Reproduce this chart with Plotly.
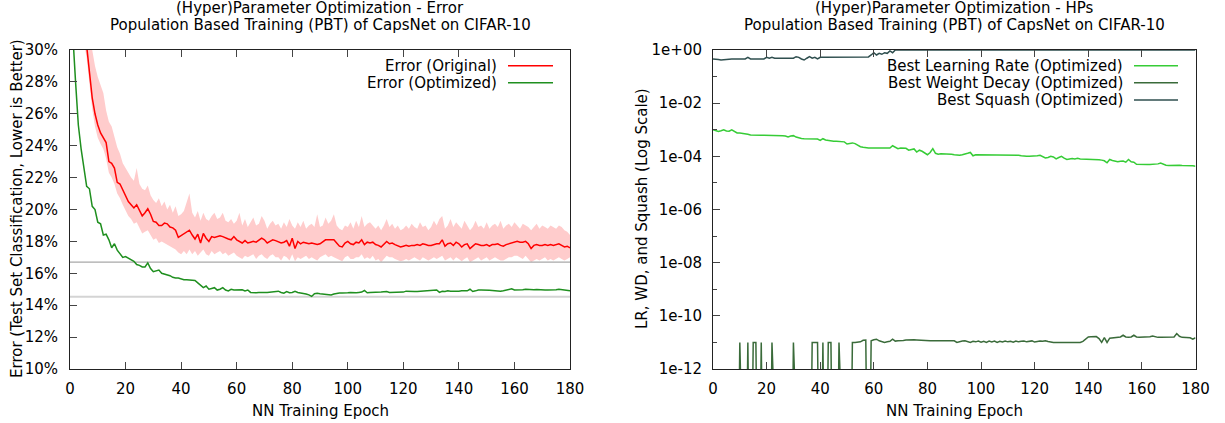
import plotly.graph_objects as go

W, H = 1225, 423
FONT = "DejaVu Sans"
FS = 15

epochs = list(range(181))

err_orig = [45.0, 41.0, 38.0, 35.5, 33.5, 31.8, 30.3, 28.6, 27.0, 26.0,
            25.3, 24.8, 24.5, 24.2, 23.0, 22.9, 22.6, 21.7, 21.6, 21.2,
            20.8, 20.5, 20.3, 20.1, 20.3, 19.9, 19.6, 19.8, 20.05, 19.7,
            19.25, 19.2, 19.0, 19.0, 19.15, 19.1, 18.9, 18.85, 18.7, 18.25,
            18.35, 18.5, 18.6, 18.7, 18.4, 18.15, 18.45, 17.9, 18.5, 18.2,
            18.0, 18.3, 18.25, 18.3, 18.35, 18.3, 18.2, 18.15, 18.1, 18.3,
            18.1, 18.0, 17.9, 18.05, 17.9, 17.95, 18.0, 17.95, 18.05, 18.2,
            18.1, 17.9, 18.0, 18.1, 18.05, 17.95, 17.9, 17.95, 18.05, 17.7,
            18.2, 17.55, 18.0, 17.85, 17.95, 17.9, 17.85, 17.9, 17.85, 17.8,
            17.85, 17.95, 18.1, 18.1, 18.1, 18.1, 17.9, 17.7, 17.65, 17.9,
            18.0, 17.85, 17.8, 17.95, 17.9, 18.1, 17.8, 17.95, 17.9, 17.95,
            17.8, 17.75, 17.65, 17.85, 18.0, 17.85, 17.9, 17.8, 17.7, 17.65,
            17.7, 17.75, 17.7, 17.75, 17.75, 17.8, 17.75, 17.85, 17.8, 17.75,
            17.75, 17.8, 17.85, 17.85, 18.1, 17.7, 17.85, 17.9, 17.75, 17.95,
            17.85, 17.65, 17.8, 17.85, 17.55, 17.7, 17.85, 17.8, 17.75, 17.75,
            17.8, 17.7, 17.8, 17.8, 17.85, 17.75, 17.7, 17.8, 17.85, 17.9,
            17.95, 18.0, 17.95, 17.95, 18.0, 17.85, 17.55, 17.75, 17.8, 17.75,
            17.75, 17.8, 17.75, 17.8, 17.75, 17.8, 17.85, 17.75, 17.65, 17.7, 17.6]

err_orig_hi = [50.0, 46.0, 42.0, 39.0, 37.0, 35.0, 33.0, 31.5, 30.0, 29.0,
               28.3, 27.8, 27.3, 26.2, 25.5, 25.2, 24.6, 23.9, 23.5, 22.9,
               22.6, 22.3, 22.0, 21.8, 22.6, 21.6, 21.3, 21.2, 21.5, 20.9,
               20.6, 20.4, 20.7, 20.2, 20.5, 20.0, 20.3, 19.8, 20.2, 19.6,
               19.7, 19.9, 20.4, 21.0, 19.8, 19.5, 19.9, 19.3, 19.8, 19.4,
               19.3, 19.6, 19.8, 19.4, 19.5, 19.8, 19.3, 19.2, 19.4, 19.1,
               19.3, 19.8, 19.0, 19.4, 18.9, 19.2, 19.5, 19.0, 19.1, 19.6,
               19.3, 18.8, 19.1, 19.3, 19.0, 19.1, 18.8, 19.2, 18.9, 19.4,
               19.0, 18.8, 19.2, 18.9, 19.3, 18.8, 19.0, 19.1, 18.9, 19.7,
               18.9, 19.0, 19.5, 19.1, 19.3, 19.7, 19.0, 18.8, 18.7, 19.0,
               18.9, 19.2, 18.8, 19.3, 18.9, 19.6, 18.9, 19.1, 19.2, 19.0,
               18.8, 19.0, 18.7, 19.0, 19.4, 18.9, 19.1, 18.8, 19.0, 18.7,
               18.8, 19.0, 18.8, 19.1, 18.9, 18.8, 19.2, 18.9, 19.0, 18.7,
               18.9, 19.3, 19.0, 19.4, 19.6, 18.8, 19.0, 19.4, 18.9, 19.2,
               19.0, 18.8, 19.3, 19.0, 18.7, 18.9, 19.3, 18.9, 19.0, 18.8,
               19.2, 18.8, 19.0, 19.1, 18.9, 19.3, 18.8, 19.0, 19.1, 18.9,
               19.2, 19.0, 18.8, 19.1, 19.0, 18.9, 18.7, 18.9, 19.1, 18.8,
               19.0, 18.9, 18.8, 19.0, 18.9, 18.8, 19.0, 18.9, 18.7, 18.6, 18.4]

err_orig_lo = [42.0, 38.0, 35.0, 33.0, 31.5, 30.5, 29.5, 27.8, 26.3, 25.2,
               24.5, 24.1, 23.8, 23.2, 22.3, 22.0, 21.6, 21.0, 20.7, 20.3,
               19.9, 19.6, 19.4, 19.1, 19.2, 18.8, 18.5, 18.6, 18.7, 18.4,
               18.1, 18.2, 17.9, 18.0, 17.9, 17.8, 17.7, 17.6, 17.5, 17.3,
               17.2, 17.4, 17.2, 17.5, 17.2, 17.4, 17.1, 17.3, 17.5, 17.2,
               17.1, 17.4, 17.2, 17.3, 17.4, 17.2, 17.3, 17.1, 17.2, 17.3,
               17.1, 17.0, 16.9, 17.1, 17.0, 17.1, 17.2, 16.9, 17.1, 17.2,
               17.0, 16.9, 17.1, 17.2, 17.0, 17.0, 16.8, 17.1, 17.0, 16.8,
               17.2, 16.75, 17.0, 16.9, 17.0, 17.1, 16.9, 17.0, 16.9, 16.8,
               17.0, 17.1, 17.2, 17.0, 17.1, 17.0, 16.9, 16.8, 16.75, 17.0,
               17.1, 16.9, 16.9, 17.0, 17.0, 17.2, 16.9, 17.0, 16.9, 17.1,
               16.8, 16.9, 16.7, 16.9, 17.1, 17.0, 17.0, 16.9, 16.8, 16.75,
               16.8, 16.9, 16.8, 16.9, 17.0, 16.9, 16.8, 17.0, 16.9, 16.8,
               16.9, 17.0, 16.9, 17.0, 17.1, 16.8, 16.9, 17.0, 16.8, 17.0,
               16.9, 16.75, 16.9, 17.0, 16.7, 16.8, 16.9, 17.0, 16.8, 16.9,
               17.0, 16.8, 16.9, 17.0, 16.9, 16.8, 16.8, 16.9, 17.0, 17.0,
               17.1, 17.1, 17.0, 16.9, 17.1, 16.9, 16.7, 16.8, 16.9, 16.8,
               16.9, 17.0, 16.8, 16.9, 16.8, 16.9, 17.0, 16.9, 16.8, 16.9, 17.0]

err_opt = [36.0, 31.0, 28.0, 25.3, 23.8, 22.5, 21.45, 21.3, 20.2, 20.0,
           19.2, 19.1, 18.4, 18.45, 18.1, 17.6, 17.85, 17.45, 17.25, 17.0,
           17.05, 16.95, 16.9, 16.75, 16.55, 16.5, 16.4, 16.4, 16.65, 16.3,
           16.1, 16.15, 16.2, 16.0, 15.95, 15.9, 15.85, 15.75, 15.7, 15.7,
           15.65, 15.6, 15.6, 15.58, 15.55, 15.55, 15.4, 15.25, 15.1, 15.2,
           15.0, 15.05, 15.1, 14.95, 15.0, 15.1, 14.95, 14.9, 15.0, 14.95,
           14.95, 14.95, 14.97, 14.9, 14.95, 14.8, 14.78, 14.78, 14.8, 14.78,
           14.8, 14.8, 14.82, 14.8, 14.85, 14.88, 14.8, 14.75, 14.85, 14.78,
           14.8, 14.87, 14.8, 14.78, 14.75, 14.7, 14.65, 14.55, 14.72, 14.75,
           14.72, 14.7, 14.72, 14.7, 14.64, 14.7, 14.74, 14.76, 14.76, 14.75,
           14.78, 14.8, 14.78, 14.78, 14.8, 14.82, 14.92, 14.78, 14.8, 14.8,
           14.84, 14.82, 14.83, 14.85, 14.86, 14.8, 14.8, 14.8, 14.78, 14.8,
           14.82, 14.88, 14.86, 14.86, 14.86, 14.86, 14.87, 14.88, 14.88, 14.9,
           14.9, 14.92, 14.95, 14.8, 14.87, 14.86, 14.9, 14.88, 14.87, 14.9,
           14.88, 14.9, 14.92, 14.9, 15.0, 14.86, 14.9, 14.95, 14.95, 14.93,
           14.92, 14.93, 14.92, 14.9, 14.92, 14.88, 14.9, 14.95, 15.0, 15.03,
           14.95, 14.95, 14.95, 14.97, 15.0, 14.98, 14.95, 14.97, 14.98, 14.96,
           14.95, 14.95, 14.95, 14.95, 14.96, 14.97, 15.0, 14.98, 14.95, 14.92, 14.9]

ref_levels = [16.7, 14.53]
ref_colors = ["#a8a8a8", "#d4d4d4"]
ref_widths = [1.2, 2.2]

lr = [1.0e-3, 9.5e-4, 8.7e-4, 9.2e-4, 1.0e-3, 9.0e-4, 8.8e-4, 1.0e-3, 8.5e-4, 7.6e-4,
      7.5e-4, 7.4e-4, 7.2e-4, 6.8e-4, 6.3e-4, 6.2e-4, 6.2e-4, 6.2e-4, 6.2e-4, 6.2e-4,
      6.2e-4, 6.2e-4, 6.2e-4, 6.2e-4, 6.1e-4, 6.1e-4, 6.0e-4, 5.8e-4, 5.4e-4, 5.8e-4,
      6.0e-4, 5.3e-4, 4.9e-4, 4.7e-4, 4.6e-4, 4.6e-4, 4.6e-4, 4.6e-4, 4.6e-4, 4.5e-4,
      4.0e-4, 4.6e-4, 4.1e-4, 3.9e-4, 3.7e-4, 3.7e-4, 3.7e-4, 3.7e-4, 3.7e-4, 3.5e-4,
      2.9e-4, 3.1e-4, 3.2e-4, 3.0e-4, 2.6e-4, 2.3e-4, 2.2e-4, 2.1e-4, 2.05e-4, 2.05e-4,
      2.05e-4, 2.05e-4, 2.05e-4, 2.05e-4, 2.05e-4, 2.05e-4, 2.05e-4, 2.5e-4, 2.2e-4, 1.95e-4,
      2.05e-4, 2.05e-4, 2.0e-4, 1.7e-4, 1.8e-4, 1.9e-4, 1.45e-4, 1.7e-4, 1.55e-4, 1.3e-4,
      1.15e-4, 1.4e-4, 1.95e-4, 1.3e-4, 1.2e-4, 1.25e-4, 1.25e-4, 1.2e-4, 1.23e-4, 1.2e-4,
      1.15e-4, 1.1e-4, 1.1e-4, 1.15e-4, 1.2e-4, 1.3e-4, 1.4e-4, 1.05e-4, 1.15e-4, 1.15e-4,
      1.15e-4, 1.15e-4, 1.15e-4, 1.15e-4, 1.15e-4, 1.15e-4, 1.15e-4, 1.15e-4, 1.15e-4, 1.15e-4,
      1.15e-4, 1.15e-4, 1.15e-4, 1.15e-4, 1.1e-4, 1.05e-4, 1.0e-4, 1.0e-4, 1.0e-4, 1.0e-4,
      1.0e-4, 1.05e-4, 1.1e-4, 1.0e-4, 8.7e-5, 9.0e-5, 1.0e-4, 9.5e-5, 8.0e-5, 9.0e-5,
      1.0e-4, 8.5e-5, 7.6e-5, 8.0e-5, 8.3e-5, 8.0e-5, 8.4e-5, 8.0e-5, 8.0e-5, 7.8e-5,
      7.6e-5, 8.0e-5, 8.0e-5, 7.7e-5, 7.5e-5, 7.2e-5, 6.8e-5, 5.7e-5, 7.6e-5, 7.0e-5,
      6.5e-5, 6.2e-5, 6.5e-5, 6.6e-5, 6.0e-5, 7.6e-5, 6.2e-5, 6.0e-5, 5.0e-5, 4.9e-5,
      4.9e-5, 4.9e-5, 4.9e-5, 4.9e-5, 4.9e-5, 4.9e-5, 5.2e-5, 5.6e-5, 5.1e-5, 4.6e-5,
      4.5e-5, 4.6e-5, 4.5e-5, 4.5e-5, 4.6e-5, 4.5e-5, 4.5e-5, 4.4e-5, 4.5e-5, 4.4e-5, 4.2e-5]

Z = 1e-20  # weight decay effectively zero (falls below the axis)
wd = [Z, Z, Z, Z, Z, Z, Z, Z, Z, Z,
      1e-11, Z, Z, 1e-11, Z, 1e-11, 1e-11, Z, 1e-11, Z,
      Z, Z, 1e-11, Z, Z, Z, Z, Z, Z, Z,
      1e-11, Z, Z, Z, Z, Z, Z, 1e-11, 1e-11, 1e-11,
      Z, 1e-11, Z, 1e-11, 1e-11, Z, Z, 1e-11, Z, Z,
      Z, Z, 1e-11, 1e-11, 1e-11, 1.05e-11, 1.2e-11, 1.23e-11, Z, 1.15e-11,
      1.25e-11, 1.32e-11, 1.15e-11, 1.1e-11, 1.0e-11, 1.05e-11, 1.1e-11, 1.32e-11, 1.12e-11, 1.15e-11,
      1.15e-11, 1.18e-11, 1.23e-11, 1.25e-11, 1.3e-11, 1.25e-11, 1.23e-11, 1.2e-11, 1.18e-11, 1.18e-11,
      1.17e-11, 1.16e-11, 1.16e-11, 1.15e-11, 1.15e-11, 1.16e-11, 1.15e-11, 1.15e-11, 1.14e-11, 1.15e-11,
      1.15e-11, 1.0e-11, 1.08e-11, 1.12e-11, 1.15e-11, 1.1e-11, 1.0e-11, 1.1e-11, 1.05e-11, 1.12e-11,
      1.02e-11, 1.1e-11, 1.0e-11, 1.12e-11, 1.05e-11, 1.12e-11, 1.0e-11, 1.1e-11, 1.03e-11, 1.12e-11,
      1.05e-11, 1.1e-11, 1.02e-11, 1.12e-11, 1.05e-11, 1.1e-11, 1.12e-11, 1.05e-11, 1.1e-11, 1.14e-11,
      1.03e-11, 1.08e-11, 1.12e-11, 1.1e-11, 1.15e-11, 1.08e-11, 1.02e-11, 1.0e-11, 1.0e-11, 1.0e-11,
      1.0e-11, 1.02e-11, 1.0e-11, 1.0e-11, 1.02e-11, 1.05e-11, 1.02e-11, 1.0e-11, 1.1e-11, 1.3e-11,
      1.6e-11, 1.62e-11, 1.6e-11, 1.66e-11, 1.4e-11, 1.0e-11, 1.5e-11, 1.0e-11, 1.45e-11, 1.5e-11,
      1.5e-11, 1.55e-11, 1.6e-11, 1.86e-11, 1.6e-11, 1.55e-11, 1.6e-11, 1.86e-11, 1.6e-11, 1.55e-11,
      1.55e-11, 1.55e-11, 1.6e-11, 1.65e-11, 1.75e-11, 1.6e-11, 1.55e-11, 1.55e-11, 1.55e-11, 1.55e-11,
      1.55e-11, 1.55e-11, 1.6e-11, 2.15e-11, 1.7e-11, 1.55e-11, 1.55e-11, 1.55e-11, 1.5e-11, 1.32e-11, 1.5e-11]

squash = [0.46, 0.46, 0.44, 0.42, 0.43, 0.46, 0.46, 0.46, 0.46, 0.46,
          0.46, 0.46, 0.46, 0.53, 0.46, 0.46, 0.46, 0.46, 0.46, 0.46,
          0.53, 0.49, 0.53, 0.49, 0.49, 0.49, 0.49, 0.49, 0.49, 0.49,
          0.49, 0.56, 0.53, 0.46, 0.42, 0.49, 0.56, 0.49, 0.53, 0.46,
          0.53, 0.53, 0.53, 0.53, 0.53, 0.53, 0.53, 0.53, 0.53, 0.53,
          0.53, 0.53, 0.53, 0.53, 0.53, 0.53, 0.53, 0.53, 0.55, 0.65,
          0.79, 0.65, 0.75, 0.69, 0.79, 0.75, 0.92, 0.79, 1.0, 1.0] + [1.0] * 111

x_ticks = [0, 20, 40, 60, 80, 100, 120, 140, 160, 180]
err_ticks = [10, 12, 14, 16, 18, 20, 22, 24, 26, 28, 30]
err_tick_text = ["10%", "12%", "14%", "16%", "18%", "20%", "22%", "24%", "26%", "28%", "30%"]
hp_ticks = [1e0, 1e-2, 1e-4, 1e-6, 1e-8, 1e-10, 1e-12]
hp_tick_text = ["1e+00", "1e-02", "1e-04", "1e-06", "1e-08", "1e-10", "1e-12"]
hp_minor = [1e-1, 1e-3, 1e-5, 1e-7, 1e-9, 1e-11]

title_line1 = ["(Hyper)Parameter Optimization - Error", "(Hyper)Parameter Optimization - HPs"]
title_line2 = "Population Based Training (PBT) of CapsNet on CIFAR-10"
x_title = "NN Training Epoch"
y_titles = ["Error (Test Set Classification, Lower is Better)", "LR, WD, and Squash (Log Scale)"]

C_RED = "#ff0000"
C_BAND = "#ffcccc"
C_GREEN = "#1f8f1f"
C_LR = "#36cc36"
C_WD = "#3a6b3a"
C_SQ = "#2f4f4f"

L1, R1 = 70, 570
L2, R2 = 713, 1195.5
TOP, BOT = 50, 369


def px(x):
    return x / W


def py(y):
    return 1 - y / H


fig = go.Figure()

fig.add_trace(go.Scatter(x=epochs, y=err_orig_lo, mode="lines", line=dict(width=0, color=C_BAND),
                         showlegend=False, hoverinfo="skip", xaxis="x", yaxis="y"))
fig.add_trace(go.Scatter(x=epochs, y=err_orig_hi, mode="lines", line=dict(width=0, color=C_BAND),
                         fill="tonexty", fillcolor=C_BAND, showlegend=False, hoverinfo="skip",
                         xaxis="x", yaxis="y"))
for lev, col, wdt in zip(ref_levels, ref_colors, ref_widths):
    fig.add_trace(go.Scatter(x=[epochs[0], epochs[-1]], y=[lev, lev], mode="lines",
                             line=dict(color=col, width=wdt), showlegend=False,
                             hoverinfo="skip", xaxis="x", yaxis="y"))
fig.add_trace(go.Scatter(x=epochs, y=err_orig, mode="lines", name="Error (Original)",
                         line=dict(color=C_RED, width=1.5), xaxis="x", yaxis="y"))
fig.add_trace(go.Scatter(x=epochs, y=err_opt, mode="lines", name="Error (Optimized)",
                         line=dict(color=C_GREEN, width=1.5), xaxis="x", yaxis="y"))

fig.add_trace(go.Scatter(x=epochs, y=lr, mode="lines", name="Best Learning Rate (Optimized)",
                         line=dict(color=C_LR, width=1.5), xaxis="x2", yaxis="y2"))
fig.add_trace(go.Scatter(x=epochs, y=wd, mode="lines", name="Best Weight Decay (Optimized)",
                         line=dict(color=C_WD, width=1.5), xaxis="x2", yaxis="y2"))
fig.add_trace(go.Scatter(x=epochs, y=squash, mode="lines", name="Best Squash (Optimized)",
                         line=dict(color=C_SQ, width=1.5), xaxis="x2", yaxis="y2"))

axis_common = dict(showline=True, linecolor="#222222", linewidth=1, showgrid=False, zeroline=False,
                   ticks="inside", ticklen=7, tickcolor="#444444", tickwidth=1, automargin=False,
                   tickfont=dict(family=FONT, size=FS, color="#000000"))

fig.update_layout(
    width=W, height=H, autosize=False, margin=dict(l=0, r=0, t=0, b=0, pad=0),
    paper_bgcolor="white", plot_bgcolor="white", showlegend=False,
    font=dict(family=FONT, size=FS, color="#000000"),
    xaxis=dict(domain=[px(L1), px(R1)], range=[0, 180], tickvals=x_ticks, mirror="ticks",
               anchor="y", ticklabelstandoff=6, **axis_common),
    yaxis=dict(domain=[py(BOT), py(TOP)], range=[10, 30], tickvals=err_ticks, ticktext=err_tick_text,
               mirror=True, anchor="x", ticklabelstandoff=8, **axis_common),
    xaxis2=dict(domain=[px(L2), px(R2)], range=[0, 180], tickvals=x_ticks, mirror="ticks",
                anchor="y2", ticklabelstandoff=6, **axis_common),
    yaxis2=dict(domain=[py(BOT), py(TOP)], type="log", range=[-12, 0], tickvals=hp_ticks,
                ticktext=hp_tick_text, mirror=True, anchor="x2", ticklabelstandoff=7,
                minor=dict(tickvals=hp_minor, ticks="inside", ticklen=4, tickcolor="#444444"),
                **axis_common),
)

ann = []
for line1, cx in zip(title_line1, [(L1 + R1) / 2, (L2 + R2) / 2]):
    for txt, yy in [(line1, 8), (title_line2, 25)]:
        ann.append(dict(text=txt, x=px(cx), y=py(yy), xref="paper", yref="paper", showarrow=False,
                        xanchor="center", yanchor="middle", font=dict(family=FONT, size=FS)))
    ann.append(dict(text=x_title, x=px(cx), y=py(411), xref="paper", yref="paper",
                    showarrow=False, xanchor="center", yanchor="middle", font=dict(family=FONT, size=FS)))
for txt, cx in zip(y_titles, [17, 642]):
    ann.append(dict(text=txt, x=px(cx), y=py(209), xref="paper", yref="paper", showarrow=False,
                    textangle=-90, xanchor="center", yanchor="middle", font=dict(family=FONT, size=FS)))

shapes = []
legend_left = [("Error (Original)", C_RED, 65.7), ("Error (Optimized)", C_GREEN, 82.7)]
legend_right = [("Best Learning Rate (Optimized)", C_LR, 65.7),
                ("Best Weight Decay (Optimized)", C_WD, 82.7),
                ("Best Squash (Optimized)", C_SQ, 100.0)]
for entries, tx, l0, l1 in [(legend_left, 499, 508, 553), (legend_right, 1125, 1134, 1178)]:
    for name, col, yy in entries:
        ann.append(dict(text=name, x=px(tx), y=py(yy), xref="paper", yref="paper", showarrow=False,
                        xanchor="right", yanchor="middle", font=dict(family=FONT, size=FS)))
        shapes.append(dict(type="line", xref="paper", yref="paper", x0=px(l0), x1=px(l1),
                           y0=py(yy), y1=py(yy), line=dict(color=col, width=1.5)))

fig.update_layout(annotations=ann, shapes=shapes)
# remove the browser's default 8px body margin so the figure sits at the page origin
fig.write_html("out.html", config={"displayModeBar": False},
               post_script="document.body.style.margin='0';document.body.style.overflow='hidden';")
